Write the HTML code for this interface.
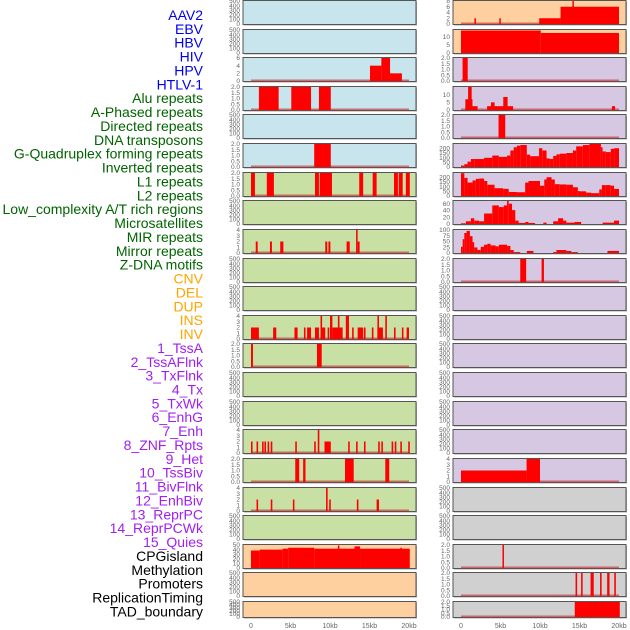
<!DOCTYPE html>
<html><head><meta charset="utf-8">
<style>
html,body{margin:0;padding:0;background:#fff;}
svg{display:block;font-family:"Liberation Sans",sans-serif;}
</style></head>
<body>
<svg id="chart" width="630" height="630" viewBox="0 0 630 630" xmlns="http://www.w3.org/2000/svg">
<g id="labels"></g>
<g id="panels"></g>
<g id="xaxes"></g>
</svg>
<script>
// ---------- labels ----------
const labelNames = ["AAV2","EBV","HBV","HIV","HPV","HTLV-1","Alu repeats","A-Phased repeats","Directed repeats","DNA transposons","G-Quadruplex forming repeats","Inverted repeats","L1 repeats","L2 repeats","Low_complexity A/T rich regions","Microsatellites","MIR repeats","Mirror repeats","Z-DNA motifs","CNV","DEL","DUP","INS","INV","1_TssA","2_TssAFlnk","3_TxFlnk","4_Tx","5_TxWk","6_EnhG","7_Enh","8_ZNF_Rpts","9_Het","10_TssBiv","11_BivFlnk","12_EnhBiv","13_ReprPC","14_ReprPCWk","15_Quies","CPGisland","Methylation","Promoters","ReplicationTiming","TAD_boundary"];
const labelGroups = [0,0,0,0,0,0,1,1,1,1,1,1,1,1,1,1,1,1,1,2,2,2,2,2,3,3,3,3,3,3,3,3,3,3,3,3,3,3,3,4,4,4,4,4];
const groupColors = ["#0000ee","#006400","#ffa500","#a020f0","#000000"];

// ---------- track data (kb segments: [start, end, value]) ----------
const EMPTY = [];
const L3 = [[15.06,16.5,4],[16.5,17.6,6],[17.6,19.1,2]];
const L4 = [[1.0,3.5,2],[5.1,7.6,2],[8.6,10.1,2]];
const L6 = [[8.0,10.1,2]];
const L7 = [[0,0.5,2],[2.0,2.9,2],[8.1,8.6,2],[8.7,10.25,2],[13.7,14.2,2],[15.4,15.9,2],[18.1,18.6,2],[18.7,19.2,2],[19.6,20.1,2]];
const L9 = [[0.6,0.85,2],[2.4,2.65,2],[3.7,4.1,2],[9.4,9.65,2],[9.8,10.05,2],[12.1,12.5,2],[13.3,13.5,4],[13.5,13.75,2]];
const L12 = [[0,1.0,2],[2.8,3.2,2],[5.5,5.9,2],[6.7,6.9,2],[7.1,7.6,2],[8.1,8.6,2],[8.8,9.0,4],[8.9,9.4,2],[9.7,9.9,2],[10.0,10.3,4],[10.3,11.6,2],[11.0,11.2,4],[12.0,12.4,4],[12.8,13.0,2],[13.5,14.2,2],[14.3,14.5,2],[15.3,15.5,2],[16.0,16.2,4],[16.0,16.7,2],[17.0,17.2,4],[18.1,18.3,2],[19.1,19.3,2],[19.7,20.0,2]];
const L13 = [[0,0.25,2],[8.35,8.95,2]];
const L16 = [[0,0.2,2],[0.7,0.9,2],[1.4,1.6,2],[1.7,1.9,2],[2.1,2.3,2],[2.5,2.7,2],[5.6,5.8,2],[8.0,8.2,2],[8.45,8.65,4],[9.3,10.1,2],[12.3,12.5,2],[13.3,13.5,2],[14.3,14.5,2],[16.1,16.3,2],[16.5,16.7,2],[17.8,18.0,2],[18.2,18.4,2],[18.9,19.1,2],[19.9,20.1,2]];
const L17 = [[5.6,6.1,2],[6.6,6.9,2],[11.9,13.0,2],[17.0,17.5,2]];
const L18 = [[0.7,0.9,2],[2.5,2.7,2],[5.3,5.5,2],[9.5,9.7,4],[9.9,10.1,2],[13.4,13.6,2],[15.9,16.2,2]];
const L20 = [[0,1.1,38],[1.1,4.0,40],[4.0,4.7,42],[4.7,8.0,44],[8.0,13.1,42],[11.0,11.15,49],[13.1,13.8,47],[13.8,20.1,42],[18.9,19.1,44]];

const R1 = [[1.7,1.85,2],[4.85,5.0,2],[9.9,12.6,2],[12.6,20,6],[14.1,14.2,8]];
const R2 = [[0,10.1,13.7],[10.1,20,12.2]];
const R3 = [[0.2,0.85,2]];
const R4 = [[0.55,2.1,2.5],[0.55,1.45,7],[0.9,1.35,15],[3.3,6.6,2.5],[3.8,4.25,5],[5.35,5.9,8.5],[19.1,19.5,2.5]];
const R5 = [[4.75,5.6,2]];
const R6edges = [0,0.42,0.83,1.25,1.67,2.92,3.96,4.79,5.83,6.25,6.67,7.08,7.5,8.33,8.75,9.88,10.29,10.83,11.25,11.67,12.08,12.5,13.33,14.17,14.58,15.42,16.25,17.71,17.92,18.33,18.96,19.38,20];
const R6values = [15,30,57,85,85,98,122,108,122,176,210,227,234,132,115,200,176,91,85,118,135,142,149,176,220,234,245,210,166,159,193,200];
const R7edges = [0,0.42,0.83,1.46,1.875,2.29,2.92,3.33,4.25,5.33,6.04,7.08,8.125,8.54,10,10.54,10.83,11.46,11.875,12.5,13.33,14.17,14.79,15,15.83,16.46,17.5,17.83,18.33,18.96,19.375,20];
const R7values = [243,193,143,166,183,186,160,120,83,76,43,40,143,160,110,176,200,176,126,123,120,93,53,50,36,30,70,116,116,110,76];
const R8edges = [0,0.625,1.25,1.67,2.29,2.92,3.96,4.79,5.42,5.83,6.04,6.46,6.875,7.29,8.125,8.54,9.375,10.42,10.83,11.67,12.29,12.92,13.33,14.375,15.21,17.92,19.375,20];
const R8values = [2,8,17,10,8,31,55,50,55,68,60,41,10,3,6,3,0,4,0,8,17,10,4,6,0,4,10];
const R9edges = [0,0.21,0.42,0.71,1.125,1.46,1.67,2.08,2.5,2.92,3.33,3.75,4.375,4.79,5.83,6.25,6.67,7.5,8.33,9.17,11.67,12.08,13.33,13.96,14.79,18.54,20];
const R9values = [27,60,87,96,73,47,24,13,27,36,40,33,29,36,31,13,4,0,9,0,4,13,9,4,0,9];
const R10 = [[7.5,8.25,2],[10.2,10.5,2]];
const R17 = [[0,8.3,2],[8.3,10.0,4]];
const R20 = [[5.25,5.4,2]];
const R21 = [[14.5,14.7,2],[15.2,15.4,2],[16.4,16.8,2],[17.6,17.8,2],[18.5,18.8,2],[19.4,19.6,2]];
const R22 = [[14.4,20.1,2]];

// tick label sets
const T500 = ["0","100","200","300","400","500"];
const T2 = ["0.0","0.5","1.0","1.5","2.0"];
const T4 = ["0","1","2","3","4"];
const T6 = ["0","2","4","6"];
const T8 = ["0","2","4","6","8"];
const T50 = ["0","10","20","30","40","50"];
const xTickLabels = ["0","5kb","10kb","15kb","20kb"];
const xTickValues = [0,5,10,15,20];

function steps(edges, values){ const s=[]; for(let i=0;i<values.length;i++) s.push([edges[i],edges[i+1],values[i]]); return s; }

const BLUE="#c8e4ec", GREEN="#c8e0a4", PURPLE="#d6c8e2", ORANGE="#fed0a0", GRAY="#d0d0d0";
const leftTracks = [
 {d:EMPTY,max:500,t:T500,bg:BLUE},{d:EMPTY,max:500,t:T500,bg:BLUE},{d:L3,max:6,t:T6,bg:BLUE},{d:L4,max:2,t:T2,bg:BLUE},
 {d:EMPTY,max:500,t:T500,bg:BLUE},{d:L6,max:2,t:T2,bg:BLUE},{d:L7,max:2,t:T2,bg:GREEN},{d:EMPTY,max:500,t:T500,bg:GREEN},
 {d:L9,max:4,t:T4,bg:GREEN},{d:EMPTY,max:500,t:T500,bg:GREEN},{d:EMPTY,max:500,t:T500,bg:GREEN},{d:L12,max:4,t:T4,bg:GREEN},
 {d:L13,max:2,t:T2,bg:GREEN},{d:EMPTY,max:500,t:T500,bg:GREEN},{d:EMPTY,max:500,t:T500,bg:GREEN},{d:L16,max:4,t:T4,bg:GREEN},
 {d:L17,max:2,t:T2,bg:GREEN},{d:L18,max:4,t:T4,bg:GREEN},{d:EMPTY,max:500,t:T500,bg:GREEN},{d:L20,max:50,t:T50,bg:ORANGE,nb:1},
 {d:EMPTY,max:500,t:T500,bg:ORANGE},{d:EMPTY,max:500,t:T500,bg:ORANGE}
];
const rightTracks = [
 {d:R1,max:8,t:T8,bg:ORANGE},{d:R2,max:14,t:["0","5","10"],bg:ORANGE,nb:1},{d:R3,max:2,t:T2,bg:PURPLE},{d:R4,max:15,t:["0","5","10"],bg:PURPLE},
 {d:R5,max:2,t:T2,bg:PURPLE},{d:steps(R6edges,R6values),max:245,t:["0","50","100","150","200"],bg:PURPLE,nb:1},
 {d:steps(R7edges,R7values),max:245,t:["0","50","100","150","200"],bg:PURPLE,nb:1},
 {d:steps(R8edges,R8values),max:68,t:["0","20","40","60"],bg:PURPLE,nb:1},
 {d:steps(R9edges,R9values),max:100,t:["0","25","50","75","100"],bg:PURPLE,nb:1},
 {d:R10,max:2,t:T2,bg:PURPLE},{d:EMPTY,max:500,t:T500,bg:PURPLE},{d:EMPTY,max:500,t:T500,bg:PURPLE},
 {d:EMPTY,max:500,t:T500,bg:PURPLE},{d:EMPTY,max:500,t:T500,bg:PURPLE},{d:EMPTY,max:500,t:T500,bg:PURPLE},
 {d:EMPTY,max:500,t:T500,bg:PURPLE},{d:R17,max:4,t:T4,bg:PURPLE},{d:EMPTY,max:500,t:T500,bg:GRAY},
 {d:EMPTY,max:500,t:T500,bg:GRAY},{d:R20,max:2,t:T2,bg:GRAY},{d:R21,max:2,t:T2,bg:GRAY},{d:R22,max:2,t:T2,bg:GRAY}
];

const NS="http://www.w3.org/2000/svg";
function mk(tag, attrs, parent){ const e=document.createElementNS(NS,tag); for(const k in attrs) e.setAttribute(k,attrs[k]); parent.appendChild(e); return e; }

// labels
const lg=document.getElementById('labels');
labelNames.forEach((n,i)=>{
  const t=mk('text',{x:203,y:15+i*13.87+5,'text-anchor':'end','font-size':14,fill:groupColors[labelGroups[i]]},lg);
  
  
  t.textContent=n;
});

// panels
const pg=document.getElementById('panels');
const columns=[{tracks:leftTracks,left:243,right:416,x0:251,x1:409,name:'left'},{tracks:rightTracks,left:453,right:626,x0:461,x1:619,name:'right'}];
function xScale(col,kb){ return col.x0 + kb/20*(col.x1-col.x0); }
columns.forEach(col=>{
  col.tracks.forEach((tr,i)=>{
    const top=Math.round(i*28.62)+0.5, h=(i===21?16:24), bot=top+h;
    const g=mk('g',{},pg);
    
    
    mk('rect',{x:col.left+1,y:top+1,width:col.right-col.left,height:h,fill:'#aaa'},g);
    mk('rect',{x:col.left,y:top,width:col.right-col.left,height:h,fill:tr.bg,stroke:'#555','stroke-width':1},g);
    const yS=v=>bot-0.5-v/tr.max*(h-1);
    tr.t.forEach((lab,k)=>{
      const v=(tr.t===T500)?k*100:(parseFloat(lab));
      const tt=mk('text',{x:col.left-3,y:yS(v)+2.2,'text-anchor':'end','font-size':6.5,fill:'#666'},g);
      
      
      tt.textContent=lab;
    });
    if(tr.d.length){
      if(!tr.nb){
        const bl=mk('line',{x1:col.x0,x2:col.x1,y1:bot-1,y2:bot-1,stroke:'rgba(190,40,40,0.6)','stroke-width':2},g);
        
        
      }
      tr.d.forEach(s=>{
        const xa=xScale(col,s[0]), xb=xScale(col,s[1]);
        const y=yS(s[2]);
        const r=mk('rect',{x:xa,y:y,width:Math.max(1.5,xb-xa),height:bot-0.5-y,fill:'#ff0000'},g);
        
        
      });
    }
  });
  const xg=document.getElementById('xaxes');
  xTickValues.forEach((v,k)=>{
    const t=mk('text',{x:xScale(col,v),y:628,'text-anchor':'middle','font-size':7,fill:'#666'},xg);
    
    
    t.textContent=xTickLabels[k];
  });
});
</script>
</body></html>
